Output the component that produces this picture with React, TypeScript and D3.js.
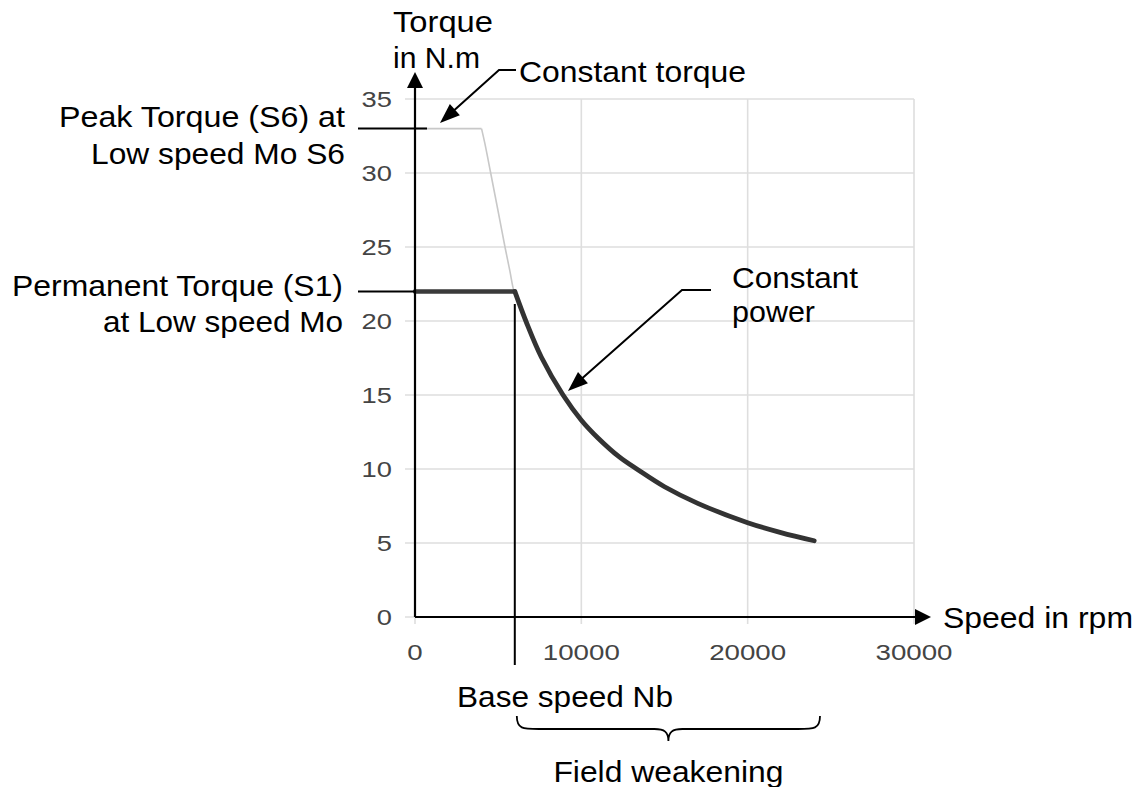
import React from "react";
import * as d3 from "d3";

// ---- data ----
const xTicks = [0, 10000, 20000, 30000];
const yTicks = [0, 5, 10, 15, 20, 25, 30, 35];
const baseSpeed = 6000;
const permTorque = 22;
const peakTorque = 33;
// S1 (permanent) torque curve
const s1Speed = [0, 6000, 6700, 7600, 8900, 10000, 11000, 12300, 13400, 15000, 17000, 20000, 22000, 24000];
const s1Torque = [22, 22, 19.9, 17.55, 15, 13.3, 12.1, 10.8, 9.95, 8.8, 7.68, 6.37, 5.7, 5.15];
// S6 (peak) torque curve
const s6Speed = [0, 4000, 4200, 4550, 5000, 5410, 5700, 5950, 6300, 6700];
const s6Torque = [33, 33, 32, 30, 27.4, 25, 23.4, 22, 20.9, 19.9];

const W = 1143;
const H = 787;
const FONT = "'Liberation Sans', Arial, Helvetica, sans-serif";

function arrowHead(fx: number, fy: number, tx: number, ty: number, len = 20, half = 7.5) {
  const dx = tx - fx;
  const dy = ty - fy;
  const L = Math.hypot(dx, dy);
  const ux = dx / L;
  const uy = dy / L;
  const bx = tx - ux * len;
  const by = ty - uy * len;
  const px = -uy;
  const py = ux;
  return `M${tx},${ty}L${bx + px * half},${by + py * half}L${bx - px * half},${by - py * half}Z`;
}

function Label(props: { x: number; y: number; w: number; anchor?: string; children: string; size?: number }) {
  const { x, y, w, anchor = "start", children, size = 29 } = props;
  return (
    <text
      x={x}
      y={y}
      textAnchor={anchor}
      fontFamily={FONT}
      fontSize={size}
      fill="#000"
      textLength={w}
      lengthAdjust="spacingAndGlyphs"
    >
      {children}
    </text>
  );
}

export default function App() {
  const x = d3.scaleLinear().domain([0, 30000]).range([415, 914]);
  const y = d3.scaleLinear().domain([0, 35]).range([617, 99]);

  const s1 = s1Speed.map((s, i) => [s, s1Torque[i]] as [number, number]);
  const s6 = s6Speed.map((s, i) => [s, s6Torque[i]] as [number, number]);

  const flat = d3.line<[number, number]>().x((d) => x(d[0])).y((d) => y(d[1]));
  const smooth = d3
    .line<[number, number]>()
    .x((d) => x(d[0]))
    .y((d) => y(d[1]))
    .curve(d3.curveCatmullRom.alpha(0.5));

  const s1Flat = flat(s1.slice(0, 2)) || "";
  const s1Curve = smooth(s1.slice(1)) || "";
  const s6Flat = flat(s6.slice(0, 2)) || "";
  const s6Curve = smooth(s6.slice(1)) || "";

  const grid = "#dedede";
  const xMin = x(0);
  const xMax = x(30000);
  const yMin = y(0);
  const yMax = y(35);

  // annotation geometry
  const ctFrom: [number, number] = [499, 70];
  const ctTip: [number, number] = [440, 123];
  const cpFrom: [number, number] = [682, 290];
  const cpTip: [number, number] = [568, 391];

  const braceL = x(baseSpeed) + 2;
  const braceR = 820;
  const braceM = (braceL + braceR) / 2;
  const bTop = 716;
  const bMid = 729;
  const bTip = 741;
  const brace =
    `M${braceL},${bTop} C${braceL},${bMid} ${braceL + 6},${bMid} ${braceL + 22},${bMid}` +
    ` L${braceM - 14},${bMid} C${braceM - 4},${bMid} ${braceM},${bMid + 3} ${braceM},${bTip}` +
    ` C${braceM},${bMid + 3} ${braceM + 4},${bMid} ${braceM + 14},${bMid}` +
    ` L${braceR - 22},${bMid} C${braceR - 6},${bMid} ${braceR},${bMid} ${braceR},${bTop}`;

  return (
    <svg
      width={W}
      height={H}
      style={{ position: "absolute", left: 0, top: 0, background: "#fff" }}
    >
      <rect width={W} height={H} fill="#fff" />
      {/* gridlines */}
      {yTicks.map((t) => (
        <line key={"gy" + t} x1={xMin - 10} x2={xMax} y1={y(t)} y2={y(t)} stroke={grid} strokeWidth={1.6} />
      ))}
      {xTicks.map((t) => (
        <line key={"gx" + t} x1={x(t)} x2={x(t)} y1={yMax} y2={yMin + 7} stroke={grid} strokeWidth={1.6} />
      ))}
      {/* tick labels */}
      {yTicks.map((t) => (
        <text
          key={"ly" + t}
          x={392}
          y={y(t) + 8}
          textAnchor="end"
          fontFamily={FONT}
          fontSize={22}
          fill="#444"
          textLength={15.2 * String(t).length}
          lengthAdjust="spacingAndGlyphs"
        >
          {t}
        </text>
      ))}
      {xTicks.map((t) => (
        <text
          key={"lx" + t}
          x={x(t)}
          y={660}
          textAnchor="middle"
          fontFamily={FONT}
          fontSize={22}
          fill="#444"
          textLength={15.4 * String(t).length}
          lengthAdjust="spacingAndGlyphs"
        >
          {t}
        </text>
      ))}

      {/* peak (S6) curve */}
      <path d={s6Flat} fill="none" stroke="#c8c8c8" strokeWidth={1.6} />
      <path d={s6Curve} fill="none" stroke="#c8c8c8" strokeWidth={1.6} />

      {/* permanent (S1) curve */}
      <path d={s1Flat} fill="none" stroke="#3a3a3a" strokeWidth={4.5} strokeLinecap="round" />
      <path d={s1Curve} fill="none" stroke="#333" strokeWidth={4.8} strokeLinecap="round" strokeLinejoin="round" />

      {/* axes */}
      <line x1={xMin} x2={xMin} y1={yMin} y2={86} stroke="#000" strokeWidth={2.2} />
      <path d={arrowHead(xMin, 200, xMin, 72, 16, 8)} fill="#000" />
      <line x1={xMin} x2={916} y1={yMin} y2={yMin} stroke="#000" strokeWidth={2.2} />
      <path d={arrowHead(800, yMin, 931, yMin, 16, 8)} fill="#000" />

      {/* leader lines for torque levels */}
      <line x1={358} x2={427} y1={y(peakTorque)} y2={y(peakTorque)} stroke="#000" strokeWidth={2} />
      <line x1={358} x2={xMin} y1={y(permTorque)} y2={y(permTorque)} stroke="#000" strokeWidth={2} />

      {/* base speed line */}
      <line x1={x(baseSpeed)} x2={x(baseSpeed)} y1={304} y2={665} stroke="#000" strokeWidth={2} />

      {/* constant torque annotation */}
      <polyline
        points={`516,${ctFrom[1]} ${ctFrom[0]},${ctFrom[1]} ${ctTip[0] + 10},${ctTip[1] - 9}`}
        fill="none"
        stroke="#000"
        strokeWidth={2}
      />
      <path d={arrowHead(ctFrom[0], ctFrom[1], ctTip[0], ctTip[1])} fill="#000" />

      {/* constant power annotation */}
      <polyline
        points={`711,${cpFrom[1]} ${cpFrom[0]},${cpFrom[1]} ${cpTip[0] + 10},${cpTip[1] - 9}`}
        fill="none"
        stroke="#000"
        strokeWidth={2}
      />
      <path d={arrowHead(cpFrom[0], cpFrom[1], cpTip[0], cpTip[1])} fill="#000" />

      {/* brace */}
      <path d={brace} fill="none" stroke="#000" strokeWidth={1.8} />

      {/* texts */}
      <Label x={393} y={32} w={100}>Torque</Label>
      <Label x={393} y={68} w={87}>in N.m</Label>
      <Label x={519} y={82} w={227}>Constant torque</Label>
      <Label x={345} y={127} w={286} anchor="end">Peak Torque (S6) at</Label>
      <Label x={345} y={164} w={254} anchor="end">Low speed Mo S6</Label>
      <Label x={343} y={296} w={331} anchor="end">Permanent Torque (S1)</Label>
      <Label x={343} y={332} w={240} anchor="end">at Low speed Mo</Label>
      <Label x={732} y={288} w={126}>Constant</Label>
      <Label x={732} y={322} w={83}>power</Label>
      <Label x={943} y={628} w={190}>Speed in rpm</Label>
      <Label x={457} y={707} w={216}>Base speed Nb</Label>
      <Label x={braceM} y={782} w={230} anchor="middle">Field weakening</Label>
    </svg>
  );
}
